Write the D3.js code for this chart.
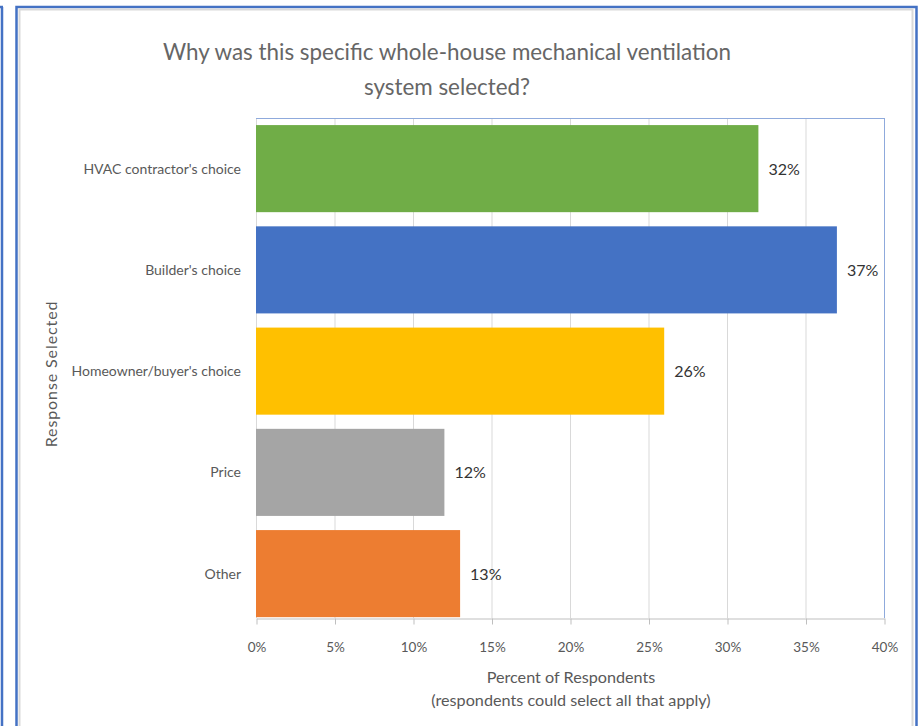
<!DOCTYPE html>
<html><head><meta charset="utf-8">
<script src="https://cdn.jsdelivr.net/npm/d3@7"></script>
<style>body{margin:0;background:#fff}svg{display:block}</style>
</head><body>
<svg id="c" width="924" height="726"></svg>
<script>
const categories = ["HVAC contractor's choice","Builder's choice","Homeowner/buyer's choice","Price","Other"];
const values = [32,37,26,12,13];
const colors = ["#70AD47","#4472C4","#FFC000","#A5A5A5","#ED7D31"];
const xTicks = [0,5,10,15,20,25,30,35,40];
const titleLines = ["Why was this specific whole-house mechanical ventilation","system selected?"];
const xTitleLines = ["Percent of Respondents","(respondents could select all that apply)"];
const yTitle = "Response Selected";

const FONT = "Lato, 'Open Sans', sans-serif";
const svg = d3.select("#c");

// frames
svg.append("rect").attr("x",16.5).attr("y",7).attr("width",900).attr("height",740).attr("fill","none").attr("stroke","#4472C4").attr("stroke-width",2.5);
svg.append("rect").attr("x",19.5).attr("y",9.5).attr("width",893).attr("height",740).attr("fill","none").attr("stroke","#d9d9d9").attr("stroke-width",2);
svg.append("line").attr("x1",2).attr("x2",2).attr("y1",7).attr("y2",726).attr("stroke","#4472C4").attr("stroke-width",2.5);
svg.append("line").attr("x1",0).attr("x2",3).attr("y1",7).attr("y2",7).attr("stroke","#4472C4").attr("stroke-width",2.5);

const pL = 256, pR = 884, pT = 118, pB = 618;
const x = d3.scaleLinear().domain([0,40]).range([pL,pR]);
const y = d3.scaleBand().domain(categories).range([pT,624.25]).paddingInner(0.14).paddingOuter(0.07);

// gridlines
svg.append("g").selectAll("line").data(xTicks).join("line")
  .attr("x1",d=>x(d)+0.5).attr("x2",d=>x(d)+0.5).attr("y1",pT).attr("y2",pB)
  .attr("stroke","#d9d9d9").attr("stroke-width",1);

// plot border top/right
svg.append("line").attr("x1",pL).attr("x2",pR+0.5).attr("y1",pT+0.5).attr("y2",pT+0.5).attr("stroke","#8FAADC");
svg.append("line").attr("x1",pR+0.5).attr("x2",pR+0.5).attr("y1",pT).attr("y2",pB).attr("stroke","#8FAADC");

// bars
svg.append("g").selectAll("rect").data(categories).join("rect")
  .attr("x",x(0)).attr("y",d=>y(d)).attr("width",(d,i)=>x(values[i])-x(0)).attr("height",y.bandwidth())
  .attr("fill",(d,i)=>colors[i]);

// value labels
svg.append("g").selectAll("text").data(categories).join("text")
  .attr("x",(d,i)=>x(values[i])+10).attr("y",d=>y(d)+y.bandwidth()/2+6)
  .attr("font-family",FONT).attr("font-size",16).attr("fill","#333333")
  .text((d,i)=>values[i]+"%");

// category labels
svg.append("g").selectAll("text").data(categories).join("text")
  .attr("x",241).attr("y",d=>y(d)+y.bandwidth()/2+5)
  .attr("text-anchor","end").attr("font-family",FONT).attr("font-size",14).attr("fill","#595959")
  .text(d=>d);

// x axis
const xAxis = d3.axisBottom(x).tickValues(xTicks).tickFormat(d=>d+"%").tickSize(6).tickSizeOuter(0);
const gx = svg.append("g").attr("transform",`translate(0.5,${pB+0.5})`).call(xAxis);
gx.select(".domain").attr("stroke","#bfbfbf");
gx.selectAll(".tick line").attr("stroke","#bfbfbf");
gx.selectAll(".tick text").attr("font-family",FONT).attr("font-size",13.5).attr("fill","#595959").attr("dy","1.85em");

// titles
svg.append("g").selectAll("text").data(titleLines).join("text")
  .attr("x",447).attr("y",(d,i)=>60+i*35).attr("text-anchor","middle")
  .attr("font-family",FONT).attr("font-size",22.4).attr("fill","#666666").text(d=>d);
svg.append("g").selectAll("text").data(xTitleLines).join("text")
  .attr("x",571).attr("y",(d,i)=>683+i*23).attr("text-anchor","middle")
  .attr("font-family",FONT).attr("font-size",16.2).attr("fill","#595959").text(d=>d);
svg.append("text").attr("transform","translate(57,374) rotate(-90)").attr("text-anchor","middle")
  .attr("font-family",FONT).attr("font-size",16).attr("fill","#595959").attr("letter-spacing",0.9).text(yTitle);
</script>
</body></html>
